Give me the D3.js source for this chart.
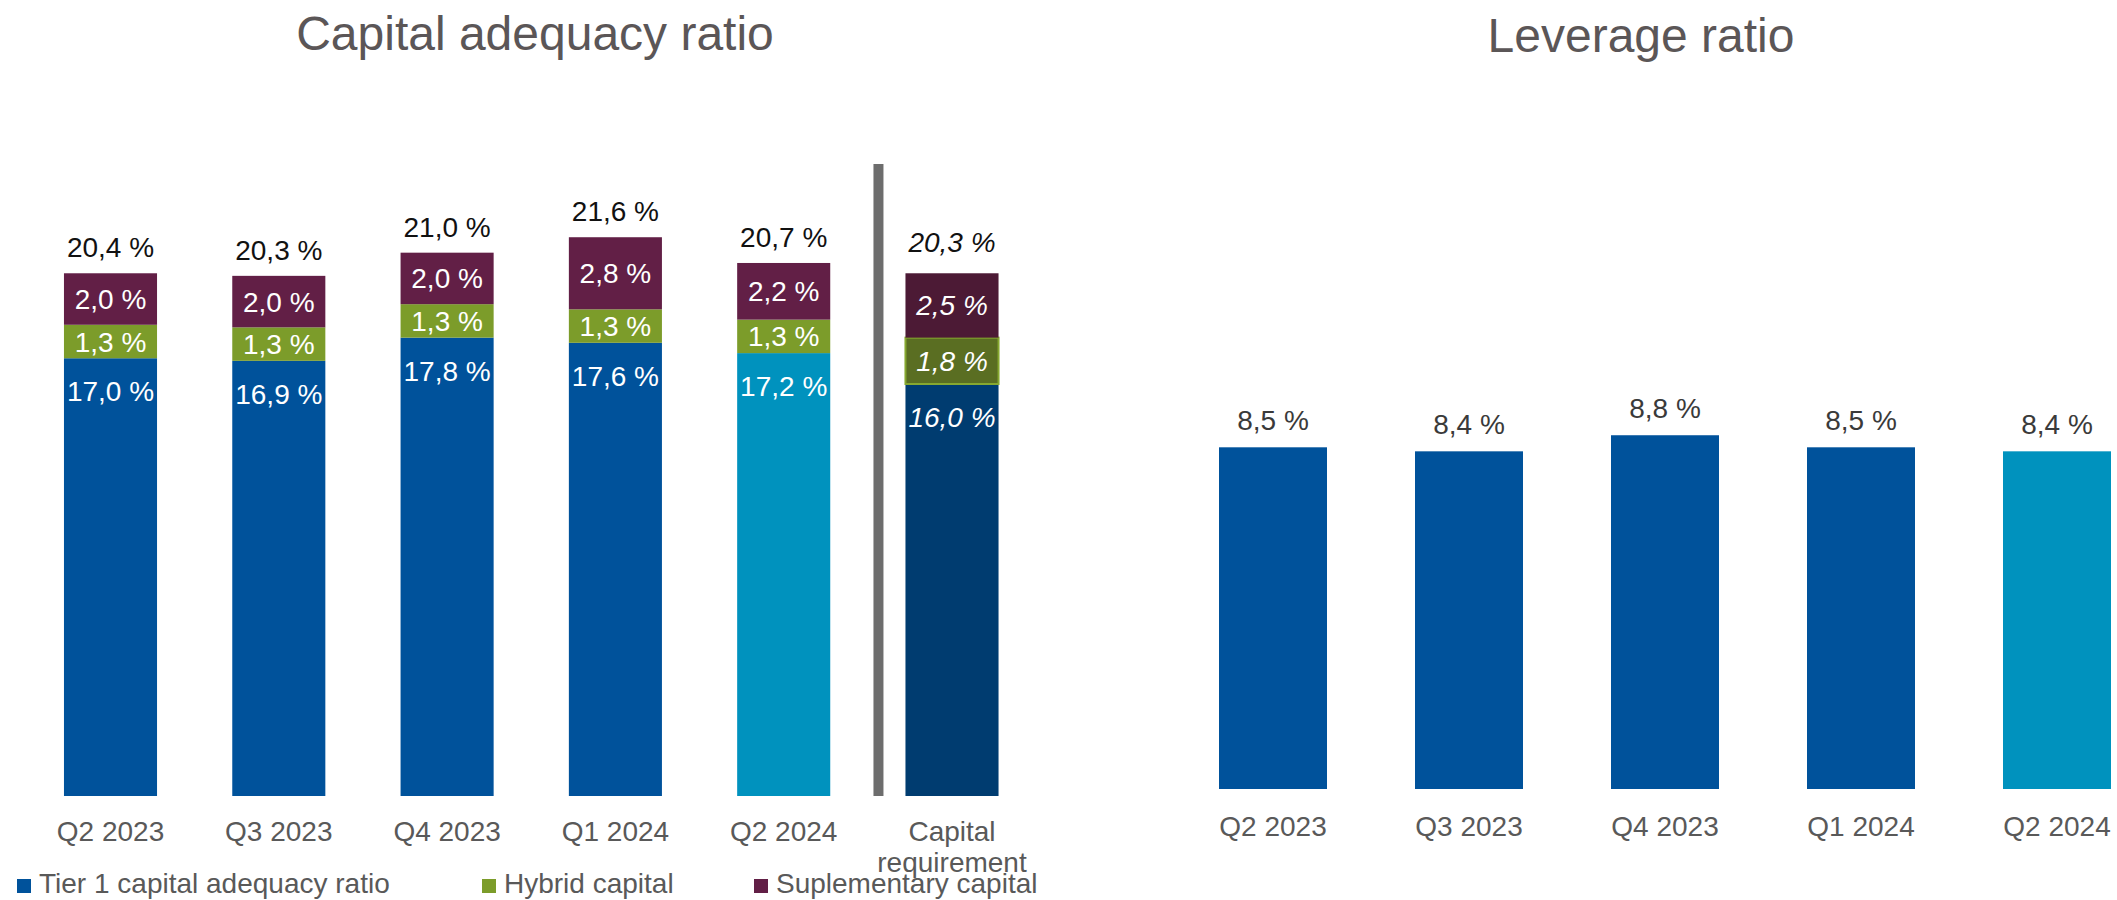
<!DOCTYPE html>
<html>
<head>
<meta charset="utf-8">
<script src="https://cdn.jsdelivr.net/npm/d3@7"></script>
<style>
  html, body { margin: 0; padding: 0; background: #ffffff; }
  svg { display: block; font-family: "Liberation Sans", Arial, sans-serif; }
</style>
</head>
<body>
<svg id="chart" width="2117" height="900"></svg>
<script>
// Capital adequacy ratio (stacked components)
const capCategories = ["Q2 2023", "Q3 2023", "Q4 2023", "Q1 2024", "Q2 2024", "Capital requirement"];
const tier1Values   = [17.0, 16.9, 17.8, 17.6, 17.2, 16.0];
const hybridValues  = [1.3, 1.3, 1.3, 1.3, 1.3, 1.8];
const suppValues    = [2.0, 2.0, 2.0, 2.8, 2.2, 2.5];
const capTotals     = [20.4, 20.3, 21.0, 21.6, 20.7, 20.3];

// Leverage ratio
const levCategories = ["Q2 2023", "Q3 2023", "Q4 2023", "Q1 2024", "Q2 2024"];
const levValues     = [8.5, 8.4, 8.8, 8.5, 8.4];

const seriesNames = ["Tier 1 capital adequacy ratio", "Hybrid capital", "Suplementary capital"];

const colors = {
  tier1: "#00529b", hybrid: "#7c9c2a", supp: "#621f46",
  current: "#0092be",
  reqTier1: "#003c70", reqHybrid: "#5a6e22", reqSupp: "#4c1a35"
};

const fmt = v => d3.format(".1f")(v).replace(".", ",") + " %";
const svg = d3.select("#chart");
const FONT = 28;

// ---------- Left panel ----------
const xCap = d3.scaleBand().domain(capCategories)
  .range([26.35, 1036.15]).paddingInner(0.447).paddingOuter(0.2235);
const yCap = d3.scaleLinear().domain([0, 24]).range([796, 796 - 24 * 25.75]);

svg.append("text").attr("x", 535).attr("y", 50).attr("text-anchor", "middle")
  .attr("font-size", 48).attr("fill", "#5b5657").text("Capital adequacy ratio");

const capRows = capCategories.map((c, i) => ({
  cat: c, i, isReq: c === "Capital requirement", isCurrent: i === 4,
  segs: [
    { key: "tier1", v: tier1Values[i], y0: 0, y1: tier1Values[i] },
    { key: "hybrid", v: hybridValues[i], y0: tier1Values[i], y1: tier1Values[i] + hybridValues[i] },
    { key: "supp", v: suppValues[i], y0: tier1Values[i] + hybridValues[i], y1: tier1Values[i] + hybridValues[i] + suppValues[i] }
  ],
  total: capTotals[i]
}));

function segColor(row, key) {
  if (row.isReq) return key === "tier1" ? colors.reqTier1 : key === "hybrid" ? colors.reqHybrid : colors.reqSupp;
  if (row.isCurrent && key === "tier1") return colors.current;
  return colors[key];
}

const gCap = svg.append("g");
capRows.forEach(row => {
  const g = gCap.append("g");
  g.selectAll("rect").data(row.segs).join("rect")
    .attr("x", xCap(row.cat))
    .attr("width", xCap.bandwidth())
    .attr("y", d => yCap(d.y1))
    .attr("height", d => yCap(d.y0) - yCap(d.y1))
    .attr("fill", d => segColor(row, d.key))
    .attr("stroke", d => row.isReq && d.key === "hybrid" ? "#86a830" : "none")
    .attr("stroke-width", 2);

  g.selectAll("text.seg").data(row.segs).join("text")
    .attr("class", "seg")
    .attr("x", xCap(row.cat) + xCap.bandwidth() / 2)
    .attr("y", d => d.key === "tier1" ? yCap(d.y1) + 33 + 10 : (yCap(d.y0) + yCap(d.y1)) / 2 + 10)
    .attr("text-anchor", "middle")
    .attr("font-size", FONT)
    .attr("font-style", row.isReq ? "italic" : "normal")
    .attr("fill", "#ffffff")
    .text(d => fmt(d.v));

  const top = row.segs[2].y1;
  g.append("text")
    .attr("x", xCap(row.cat) + xCap.bandwidth() / 2)
    .attr("y", yCap(top) - (row.isReq ? 21 : 16))
    .attr("text-anchor", "middle")
    .attr("font-size", FONT)
    .attr("font-style", row.isReq ? "italic" : "normal")
    .attr("fill", "#111111")
    .text(fmt(row.total));
});

// divider between reported quarters and the requirement
const reqX = xCap("Capital requirement");
svg.append("rect")
  .attr("x", reqX - 32).attr("width", 10)
  .attr("y", 164).attr("height", yCap(0) - 164)
  .attr("fill", "#6d6d6d");

// category labels
capCategories.forEach(c => {
  const t = svg.append("text")
    .attr("x", xCap(c) + xCap.bandwidth() / 2)
    .attr("y", 841)
    .attr("text-anchor", "middle")
    .attr("font-size", FONT)
    .attr("fill", "#595959");
  if (c === "Capital requirement") {
    t.append("tspan").attr("x", xCap(c) + xCap.bandwidth() / 2).attr("dy", 0).text("Capital");
    t.append("tspan").attr("x", xCap(c) + xCap.bandwidth() / 2).attr("dy", 31).text("requirement");
  } else {
    t.text(c);
  }
});

// legend
const legendItems = [
  { name: seriesNames[0], color: colors.tier1, x: 17 },
  { name: seriesNames[1], color: colors.hybrid, x: 482 },
  { name: seriesNames[2], color: colors.supp, x: 754 }
];
const lg = svg.append("g");
legendItems.forEach(it => {
  lg.append("rect").attr("x", it.x).attr("y", 879).attr("width", 14).attr("height", 14).attr("fill", it.color);
  lg.append("text").attr("x", it.x + 22).attr("y", 893).attr("font-size", FONT).attr("fill", "#595959").text(it.name);
});

// ---------- Right panel ----------
const xLev = d3.scaleBand().domain(levCategories)
  .range([1175, 2155]).paddingInner(0.449).paddingOuter(0.2245);
const yLev = d3.scaleLinear().domain([0, 10]).range([789, 789 - 10 * 40.2]);

svg.append("text").attr("x", 1641).attr("y", 52).attr("text-anchor", "middle")
  .attr("font-size", 48).attr("fill", "#5b5657").text("Leverage ratio");

const levData = levCategories.map((c, i) => ({ cat: c, v: levValues[i], isCurrent: i === levCategories.length - 1 }));

svg.append("g").selectAll("rect").data(levData).join("rect")
  .attr("x", d => xLev(d.cat))
  .attr("width", xLev.bandwidth())
  .attr("y", d => yLev(d.v))
  .attr("height", d => yLev(0) - yLev(d.v))
  .attr("fill", d => d.isCurrent ? colors.current : colors.tier1);

svg.append("g").selectAll("text").data(levData).join("text")
  .attr("x", d => xLev(d.cat) + xLev.bandwidth() / 2)
  .attr("y", d => yLev(d.v) - 17)
  .attr("text-anchor", "middle")
  .attr("font-size", FONT)
  .attr("fill", "#3a3a3a")
  .text(d => fmt(d.v));

svg.append("g").selectAll("text").data(levData).join("text")
  .attr("x", d => xLev(d.cat) + xLev.bandwidth() / 2)
  .attr("y", 836)
  .attr("text-anchor", "middle")
  .attr("font-size", FONT)
  .attr("fill", "#595959")
  .text(d => d.cat);
</script>
</body>
</html>
